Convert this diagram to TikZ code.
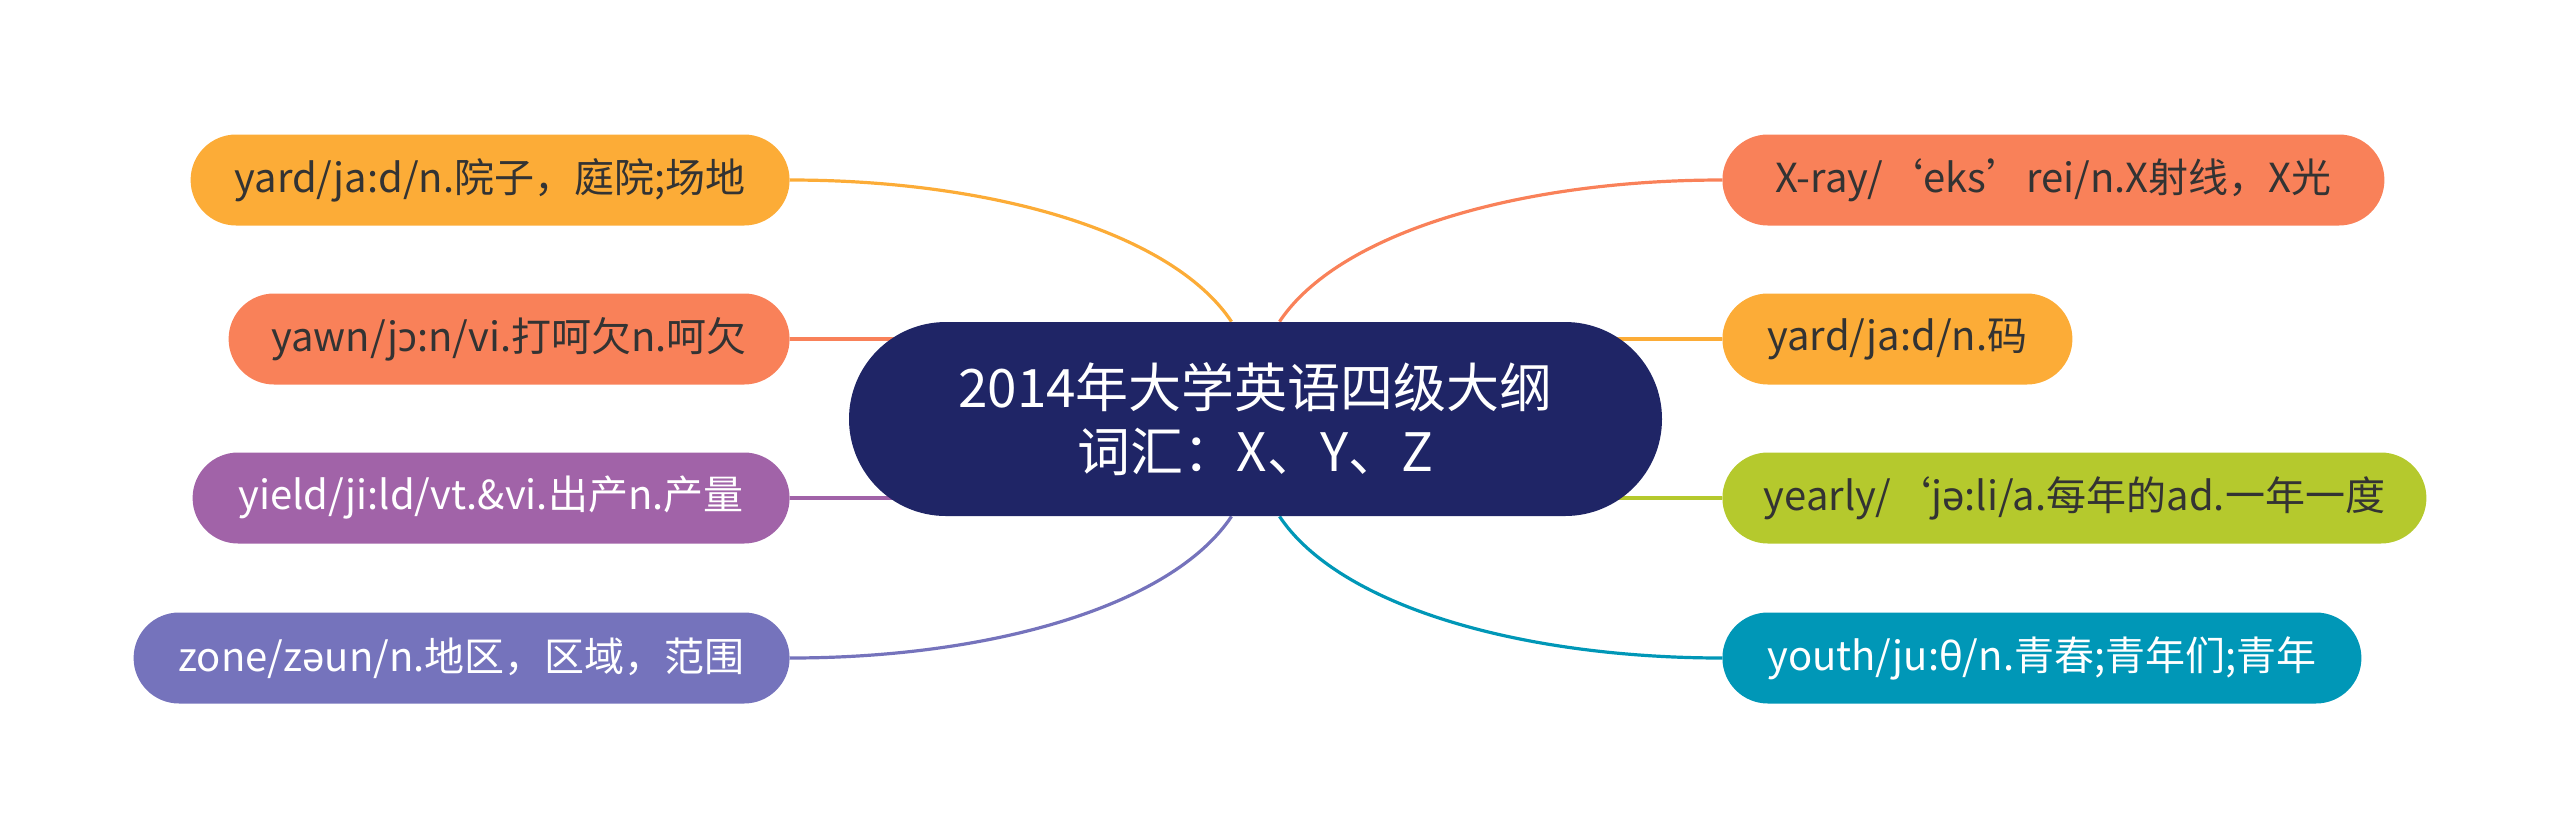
\documentclass[tikz,border=0pt]{standalone}
\usepackage{fontspec}
\setmainfont{Noto Sans CJK SC}
\newfontfamily\ipafont{Noto Sans}
\usetikzlibrary{backgrounds}
\definecolor{cnavy}{HTML}{1F2566}
\definecolor{cyellow}{HTML}{FCAC37}
\definecolor{ccoral}{HTML}{F98159}
\definecolor{cpurple}{HTML}{A163A8}
\definecolor{cviolet}{HTML}{7573BC}
\definecolor{cgreen}{HTML}{B5C92D}
\definecolor{cteal}{HTML}{0097B7}
\definecolor{ctext}{HTML}{333333}
\tikzset{
  leaf/.style={rectangle,rounded corners=22.75pt,minimum height=45.5pt,inner sep=0pt,fill=#1,font=\fontsize{20}{24}\selectfont},
  link/.style={draw=#1,line width=1.6pt}
}

\begin{document}
\begin{tikzpicture}[x=0.5pt,y=0.5pt]
      \useasboundingbox (0,0) rectangle (2560,-837);
      \node[rectangle,rounded corners=48.5pt,fill=cnavy,minimum width=406.5pt,minimum height=97pt,
        text=white,align=center,font=\fontsize{26.5}{32}\selectfont] (root) at (1255.5,-419)
        {2014年大学英语四级大纲\\词汇：X、Y、Z};
      \foreach \name/\y/\col/\tcol/\w/\txt in {
        yardA/-180/cyellow/ctext/299.5/{yard/ja:d/n.院子，庭院;场地},
        yawn/-339/ccoral/ctext/280.5/{yawn/j{\ipafont ɔ}:n/vi.打呵欠n.呵欠},
        yield/-498/cpurple/white/298.5/{yield/ji:ld/vt.\&vi.出产n.产量},
        zone/-658/cviolet/white/328/{zone/z{\ipafont ə}un/n.地区，区域，范围}} {
        \node[leaf=\col,text=\tcol,minimum width=\w pt,anchor=east] (\name) at (790,\y) {\txt};
      }
      \foreach \name/\y/\col/\tcol/\w/\txt in {
        xray/-180/ccoral/ctext/331/{X-ray/‘eks’rei/n.X射线，X光},
        yardB/-339/cyellow/ctext/175/{yard/ja:d/n.码},
        yearly/-498/cgreen/ctext/352/{yearly/‘j{\ipafont ə}:li/a.每年的ad.一年一度},
        youth/-658/cteal/white/319.5/{youth/ju:{\ipafont θ}/n.青春;青年们;青年}} {
        \node[leaf=\col,text=\tcol,minimum width=\w pt,anchor=west] (\name) at (1722,\y) {\txt};
      }
      \begin{scope}[on background layer]
        \draw[link=cyellow] ([xshift=-12pt]root.north) .. controls +(-60,90) and +(200,0) .. (yardA.east);
        \draw[link=cviolet] ([xshift=-12pt]root.south) .. controls +(-60,-90) and +(200,0) .. (zone.east);
        \draw[link=ccoral] ([xshift=12pt]root.north) .. controls +(60,90) and +(-200,0) .. (xray.west);
        \draw[link=cteal] ([xshift=12pt]root.south) .. controls +(60,-90) and +(-200,0) .. (youth.west);
        \foreach \name/\col in {yawn/ccoral,yield/cpurple}
          \draw[link=\col] (\name.east) -- (root.center |- \name.east);
        \foreach \name/\col in {yardB/cyellow,yearly/cgreen}
          \draw[link=\col] (\name.west) -- (root.center |- \name.west);
      \end{scope}
\end{tikzpicture}
\end{document}
